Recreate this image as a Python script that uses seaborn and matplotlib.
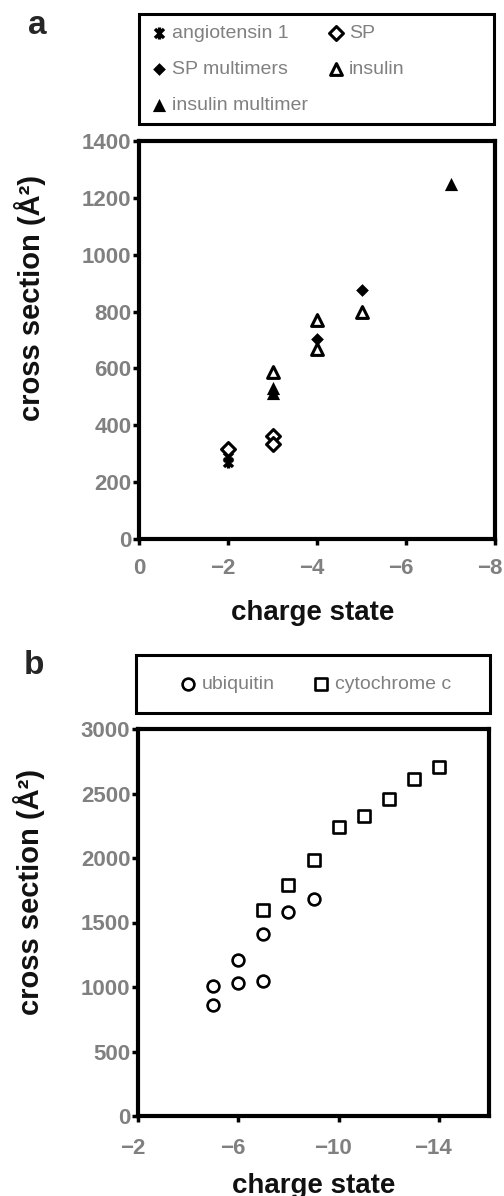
import numpy as np
import pandas as pd
import matplotlib
matplotlib.use("Agg")
import matplotlib.pyplot as plt
import matplotlib.transforms as mtransforms
from matplotlib.path import Path
from matplotlib.patches import Rectangle
import seaborn as sns

# panel a data (charge state, cross section in A^2)
ang_x = [-2, -2]
ang_y = [270, 288]
sp_x = [-2, -3, -3]
sp_y = [316, 361, 333]
spm_x = [-4, -5]
spm_y = [702, 877]
ins_x = [-3, -4, -4, -5]
ins_y = [589, 772, 667, 800]
insm_x = [-3, -3, -7]
insm_y = [530, 512, 1249]

# panel b data
ubq_x = [-5, -5, -6, -6, -7, -7, -8, -9]
ubq_y = [1008, 860, 1209, 1031, 1411, 1047, 1581, 1682]
cyt_x = [-7, -8, -9, -10, -11, -12, -13, -14]
cyt_y = [1597, 1790, 1984, 2240, 2325, 2457, 2612, 2705]

sns.set_style("ticks")
plt.rcParams["font.family"] = ["Liberation Sans", "DejaVu Sans"]

GRAY = "#808080"
star = Path([(0, -1), (0, 1), (-0.75, -0.75), (0.75, 0.75), (-0.75, 0.75), (0.75, -0.75)],
            [Path.MOVETO, Path.LINETO, Path.MOVETO, Path.LINETO, Path.MOVETO, Path.LINETO])

fig = plt.figure(figsize=(5.04, 11.96), dpi=100)
W, H = 504, 1196


def axes_px(l, t, r, b):
    return fig.add_axes([l / W, 1 - b / H, (r - l) / W, (b - t) / H])


def style_axes(ax):
    for sp in ax.spines.values():
        sp.set_linewidth(3)
        sp.set_color("black")
    ax.tick_params(axis="both", direction="out", length=4.5, width=2.5, color="black",
                   labelsize=16, labelcolor=GRAY, top=False, right=False)
    shift = mtransforms.ScaledTranslation(-4 / 72, 0, fig.dpi_scale_trans)
    for lab in ax.get_xticklabels():
        lab.set_fontweight("bold")
        if lab.get_text() not in ("0", ""):
            lab.set_transform(lab.get_transform() + shift)
    for lab in ax.get_yticklabels():
        lab.set_fontweight("bold")


def legend_box(l, t, r, b):
    fig.patches.append(Rectangle((l / W, 1 - b / H), (r - l) / W, (b - t) / H,
                                 transform=fig.transFigure, fill=False,
                                 edgecolor="black", linewidth=2.2))


# ---- panel a ----
ax1 = axes_px(139, 141, 495, 539)
series_a = [
    ("angiotensin 1", ang_x, ang_y, dict(marker=star, s=75, color="black", edgecolor="black", linewidth=2.4)),
    ("SP", sp_x, sp_y, dict(marker="D", s=50, facecolor="white", edgecolor="black", linewidth=2.2)),
    ("SP multimers", spm_x, spm_y, dict(marker="D", s=42, color="black", linewidth=0)),
    ("insulin", ins_x, ins_y, dict(marker="^", s=72, facecolor="white", edgecolor="black", linewidth=2.2)),
    ("insulin multimer", insm_x, insm_y, dict(marker="^", s=90, color="black", linewidth=0)),
]
for name, xs, ys, kw in series_a:
    d = pd.DataFrame({"charge": xs, "cs": ys})
    sns.scatterplot(data=d, x="charge", y="cs", ax=ax1, label=name, legend=False, **kw)

ax1.set_xlim(0, -8)
ax1.set_ylim(0, 1400)
ax1.set_xticks([0, -2, -4, -6, -8])
ax1.set_yticks(np.arange(0, 1401, 200))
ax1.tick_params(axis="x", pad=9)
ax1.tick_params(axis="y", pad=1)
fig.canvas.draw()
style_axes(ax1)
ax1.set_xlabel("charge state", fontsize=20, fontweight="bold", color="#111111")
ax1.set_ylabel("cross section (Å²)", fontsize=21, fontweight="bold", color="#111111")
ax1.xaxis.set_label_coords(0.489, -0.153)
ax1.yaxis.set_label_coords(-0.262, 0.605)

legend_box(139, 14, 494, 124)
h, l = ax1.get_legend_handles_labels()
order = [0, 2, 4, 1, 3]  # row-wise reading order in two columns
leg1 = fig.legend([h[i] for i in order], [l[i] for i in order], ncol=2, loc="upper left",
                  bbox_to_anchor=(151 / W, 1 - 24 / H),
                  frameon=False, fontsize=14, borderpad=0, borderaxespad=0,
                  handlelength=0.8, handletextpad=0.3, columnspacing=1.0,
                  labelspacing=0.95, scatterpoints=1, labelcolor=GRAY)

# ---- panel b ----
ax2 = axes_px(138, 729, 489, 1116)
series_b = [
    ("ubiquitin", ubq_x, ubq_y, dict(marker="o", s=72, facecolor="white", edgecolor="black", linewidth=1.9)),
    ("cytochrome c", cyt_x, cyt_y, dict(marker="s", s=72, facecolor="white", edgecolor="black", linewidth=1.9)),
]
for name, xs, ys, kw in series_b:
    d = pd.DataFrame({"charge": xs, "cs": ys})
    sns.scatterplot(data=d, x="charge", y="cs", ax=ax2, label=name, legend=False, **kw)

ax2.set_xlim(-2, -16)
ax2.set_ylim(0, 3000)
ax2.set_xticks([-2, -6, -10, -14])
ax2.set_yticks(np.arange(0, 3001, 500))
ax2.tick_params(axis="x", pad=11)
ax2.tick_params(axis="y", pad=1)
fig.canvas.draw()
style_axes(ax2)
ax2.set_xlabel("charge state", fontsize=20, fontweight="bold", color="#111111")
ax2.set_ylabel("cross section (Å²)", fontsize=21, fontweight="bold", color="#111111")
ax2.xaxis.set_label_coords(0.5, -0.147)
ax2.yaxis.set_label_coords(-0.265, 0.579)

legend_box(136, 655, 490, 713)
h, l = ax2.get_legend_handles_labels()
fig.legend(h, l, ncol=2, loc="upper left", bbox_to_anchor=(180 / W, 1 - 675 / H),
           frameon=False, fontsize=14, borderpad=0, borderaxespad=0,
           handlelength=0.8, handletextpad=0.3, columnspacing=2.0,
           scatterpoints=1, labelcolor=GRAY)

fig.text(37 / W, 1 - 26 / H, "a", fontsize=24, fontweight="bold", ha="center", va="center")
fig.text(34 / W, 1 - 666 / H, "b", fontsize=24, fontweight="bold", ha="center", va="center")

fig.savefig("out.png", dpi=100)
